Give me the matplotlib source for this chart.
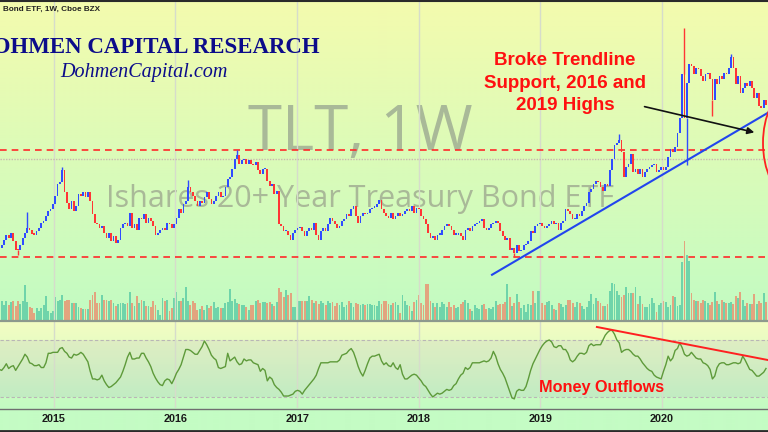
import numpy as np
import pandas as pd
import matplotlib
matplotlib.use("Agg")
import matplotlib.pyplot as plt
import matplotlib.dates as mdates
from matplotlib.patches import Ellipse, FancyArrowPatch
from matplotlib.lines import Line2D
from matplotlib.colors import to_rgb

# ---------------- data (weekly TLT, weeks starting Monday) ----------------
start_week = "2014-07-21"
first_open = 114.0

close_2014 = [114.5, 115.5, 117.0, 118.5, 117.5, 119.0, 116.5, 114.0, 113.8, 115.5,
              117.5, 119.0, 120.5, 119.8, 118.8, 118.5, 119.5, 120.5, 122.0, 122.5,
              124.0, 125.5, 126.0]
close_2015 = [127.5, 130.0, 133.5, 134.0, 137.5,
              131.0, 128.0, 126.0, 128.5,
              125.5, 127.0, 130.5, 130.0,
              131.0, 129.5, 131.0, 128.5,
              124.5, 122.0, 121.5, 120.5, 121.0,
              119.0, 117.5, 119.0, 116.5,
              118.0, 116.0, 117.0, 120.5, 121.5,
              122.0, 121.0, 125.0, 120.5,
              121.5, 120.0, 123.5, 123.0,
              124.5, 122.0, 123.5, 122.5, 121.0,
              118.5, 119.0, 120.0, 120.5,
              120.0, 122.0, 121.5, 120.5]
close_2016 = [121.5, 123.5, 126.0, 125.0, 127.5,
              128.5, 132.5, 131.0, 130.0,
              128.5, 127.0, 128.5, 128.0,
              129.5, 131.0, 129.0, 127.5, 128.5,
              130.0, 131.0, 129.5, 130.0,
              132.5, 135.0, 135.5, 138.0,
              141.0, 142.0, 139.5, 140.5, 141.0,
              139.5, 140.5, 139.5, 139.0,
              140.0, 137.5, 136.5, 138.0, 138.0,
              134.5, 133.0, 133.5, 130.5,
              131.5, 121.5, 121.0, 119.5,
              119.5, 118.5, 117.0, 119.0, 119.8]
close_2017 = [120.5, 120.8, 119.5, 118.0,
              119.5, 120.5, 120.0, 122.0,
              118.5, 117.0, 119.5, 120.5, 119.5,
              121.5, 123.5, 122.5, 121.5,
              120.5, 121.0, 122.5, 123.0,
              124.5, 124.0, 126.0, 127.0, 124.0,
              122.0, 124.0, 125.0, 124.5,
              125.0, 126.0, 126.5, 126.8,
              127.5, 128.8, 126.0, 125.0, 124.0,
              123.5, 125.0, 123.0, 124.0,
              125.0, 124.0, 124.5, 125.5,
              126.0, 125.5, 127.0, 125.0, 126.5]
close_2018 = [126.0, 124.0, 123.0, 121.5,
              119.0, 117.5, 118.0, 117.0,
              118.5, 118.5, 120.0, 121.0, 121.5,
              121.0, 120.0, 118.5, 118.5,
              119.0, 118.0, 117.0, 120.0,
              120.5, 119.5, 121.0, 121.5, 122.0,
              122.5, 123.0, 120.5, 120.0,
              120.5, 121.5, 122.0, 122.5, 122.0,
              119.5, 118.0, 117.0, 117.5,
              114.0, 114.5, 113.0, 115.5,
              113.5, 114.0, 115.5, 115.8, 116.5,
              119.5, 119.0, 121.0, 121.5]
close_2019 = [122.0, 121.0, 120.5, 121.0,
              121.5, 122.5, 121.5, 122.0,
              120.0, 122.0, 122.5, 126.0, 125.5,
              124.5, 123.0, 123.0, 124.5,
              124.0, 125.5, 127.0, 128.0, 131.0,
              132.0, 133.5, 134.5, 134.0,
              132.5, 131.5, 133.5, 133.0,
              137.5, 141.0, 145.0, 145.5, 146.5,
              143.0, 135.5, 138.5, 139.5,
              142.5, 137.0, 138.0, 136.5,
              138.0, 135.5, 137.0, 138.0, 138.5,
              139.0, 139.5, 137.0, 137.5]
close_2020 = [138.5, 137.5, 138.5, 141.5, 144.0,
              143.0, 144.5, 148.5, 153.0,
              166.0, 153.0, 163.5, 169.0,
              168.5, 166.0, 168.0, 167.5,
              165.5, 164.0, 166.0, 166.5, 164.5,
              158.5, 164.5, 163.0, 165.5,
              164.5, 166.5, 166.0, 168.0, 171.0,
              168.0, 163.0, 165.5, 160.5,
              162.0, 163.5, 162.5, 164.0,
              162.0, 159.0, 160.5, 156.5, 156.0,
              158.5, 157.0]

high_dates = ["2014-10-13", "2015-01-26", "2016-02-08", "2016-07-04",
              "2019-08-26", "2020-03-09", "2020-07-27"]
high_vals = [125.3, 138.5, 134.8, 143.6, 148.2, 179.7, 172.0]
low_dates = ["2014-09-15", "2018-10-15", "2020-03-16", "2020-06-01"]
low_vals = [112.5, 111.9, 139.0, 153.5]

vol_a = [50, 40, 33, 40, 32, 39, 40, 30, 41, 35,
         40, 72, 39, 28, 27, 17, 27, 20, 27, 33,
         50, 20, 17, 20, 48, 40, 43, 53, 40, 43,
         43, 37, 37, 37, 28, 27, 25, 25, 25, 43,
         53, 58, 37, 37, 53, 43, 43, 40, 43, 37,
         30, 35, 37, 37, 35, 37, 59, 37, 30, 50,
         37, 43, 40, 30, 30, 28, 40, 33, 23, 13,
         47, 40, 43, 20, 27, 47, 58, 41, 40, 47,
         68, 40, 33, 40, 37, 23, 25, 30, 23, 32,
         27, 30, 39, 27, 28, 27, 27, 37, 39, 65,
         40, 45, 37, 35, 33, 32, 28, 23, 32, 33,
         40, 43]
vol_b = [37, 39, 39, 37, 39, 35, 30, 39, 67, 59,
         48, 63, 53, 57, 28, 28,
         41, 41, 41, 41, 41, 50, 43, 37, 41, 35, 40, 37,
         32, 40, 37, 39, 30, 37, 32, 39, 28, 32, 40, 37, 28,
         37, 35, 32, 35, 32, 35, 35, 32, 32, 30, 41,
         35, 41, 40, 35, 32, 37,
         39, 32, 17, 52, 41, 32, 30, 21, 39, 43, 52, 37, 33, 75, 75, 41, 37, 28, 37, 28, 39, 35, 28, 39,
         28, 32, 27, 28, 35, 39, 43, 37, 25,
         21, 33, 27, 25, 32, 35, 25, 27, 25,
         28, 41, 33, 35, 35, 39,
         75]
vol_c = [48, 30, 37, 55, 39, 27, 32, 19, 35,
         33, 61, 37, 61, 61, 37, 32, 39, 41, 32, 25, 23, 37, 35, 28, 32, 43, 43, 37,
         28, 39, 37, 30, 25, 28, 40, 55, 35, 47, 40, 37, 30, 30, 35, 60, 77, 75, 60, 52, 48, 52, 68, 57, 57, 57, 68, 35, 50,
         35, 28, 28, 35, 47, 37, 19, 32, 37, 41, 39, 28, 33, 50, 48, 30, 32, 119, 160, 132, 120, 57, 43, 40, 40, 37, 43,
         41, 37, 32, 39, 59, 41, 35, 43, 39,
         37, 37, 39, 35, 50,
         47, 59, 43, 30, 37, 35, 35, 55, 35,
         40, 37, 57, 39]

mfi_a = [49, 48, 51, 55, 50, 52, 53, 48, 52, 56,
         60, 65, 62, 56, 55, 53, 53, 54, 51, 51,
         56, 66, 66, 67, 67, 67, 71, 72, 68, 66,
         62, 61, 65, 64, 65, 67, 65, 61, 57, 47,
         39, 39, 38, 39, 43, 37, 33, 30, 31, 33,
         35, 38, 41, 47, 54, 62, 67, 60, 60, 61,
         61, 66, 66, 61, 57, 52, 45, 40, 36, 33,
         32, 37, 39, 38, 34, 39, 45, 49, 54, 62,
         70, 70, 69, 67, 65, 65, 69, 73, 79, 75,
         70, 64, 61, 59, 51, 50, 51, 52, 66, 58,
         60, 62, 57, 54, 55, 60, 58, 59, 59, 56,
         55, 54, 47, 50, 48, 37, 41, 39, 33, 30,
         28, 25, 21, 21, 21, 22, 23, 26, 27, 26,
         23, 27, 30, 33, 36, 39, 43, 50, 56, 56,
         56, 56, 57, 57, 57, 57, 59, 64, 65, 66,
         69, 71, 67, 60, 52, 46, 42, 48, 55, 61,
         63, 63, 64, 65, 58]
mfi_b = [54, 56, 53, 52, 56, 51, 49, 54, 44, 39,
         39, 41, 43, 44, 43, 40, 37, 33, 31, 27,
         23, 20, 22, 24, 23, 24, 26, 28, 27, 28,
         32, 34, 39, 43, 45, 51, 49, 51, 56, 56,
         56, 56, 57, 58, 57, 58, 61, 68, 63, 55,
         49, 45, 40, 33, 26, 19, 18, 26, 28, 27,
         27, 31, 39, 48, 55, 60, 65, 70, 74, 77,
         79, 80, 78, 73, 72, 74, 74, 70, 70, 66,
         59, 57, 59, 63, 66, 66, 65, 67, 74, 76,
         74, 75, 75, 75, 80, 85, 88, 90, 90, 86,
         80, 77, 67, 69, 70, 70, 68, 65, 63, 63,
         60, 56, 53, 50, 48, 47, 43, 41, 40, 39,
         47, 54, 63, 58, 61, 69, 71, 77, 72, 65,
         63, 64, 67, 64, 61, 60, 60, 56, 55, 53,
         49, 39, 42, 51, 55, 56, 56, 54, 54, 55,
         56, 56, 55, 56, 63, 59, 54, 49, 48, 45,
         42, 42, 44, 46, 50]

year_ticks = ["2015-01-01", "2016-01-01", "2017-01-01", "2018-01-01", "2019-01-01", "2020-01-01"]
year_labels = ["2015", "2016", "2017", "2018", "2019", "2020"]

high_2016 = 143.6
low_2018 = 111.9
dotted_level = 140.8

trend_dates = ["2018-08-09", "2020-11-15"]
trend_prices = [106.6, 154.6]
arrow_dates = ["2019-11-02", "2020-10-13"]
arrow_prices = [156.6, 148.6]
div_dates = ["2019-06-20", "2020-11-15"]
div_vals = [93.7, 58.9]

# ---------------- figure ----------------
W, H = 768, 432
fig = plt.figure(figsize=(W / 100, H / 100), dpi=100)


def fx(px):
    return px / W


def fy(py):
    return 1 - py / H


def d2n(s):
    return mdates.date2num(pd.Timestamp(s).to_pydatetime())


def grad(c1, c2, n):
    a = np.array(to_rgb(c1))
    b = np.array(to_rgb(c2))
    t = np.linspace(0, 1, n)[:, None]
    return a * (1 - t) + b * t


rows = np.vstack([grad('#f4fbae', '#c2fbc3', 321),
                  grad('#f4fdc2', '#c3fbc3', 87),
                  grad('#c4fcc4', '#c4fcc4', 24)])
bg = fig.add_axes([0, 0, 1, 1], zorder=-10)
bg.imshow(rows[:, None, :], aspect='auto', extent=[0, 1, 0, 1], interpolation='bilinear')
bg.axis('off')

closes = np.array(close_2014 + close_2015 + close_2016 + close_2017 + close_2018 + close_2019 + close_2020)
volume_m = np.array(vol_a + vol_b + vol_c)
mfi = np.array(mfi_a + mfi_b)
n = min(len(closes), len(volume_m), len(mfi))
closes, volume_m, mfi = closes[:n], volume_m[:n], mfi[:n]
opens = np.r_[first_open, closes[:-1]]
dates = pd.date_range(start_week, periods=n, freq='W-MON')
x = mdates.date2num(dates.to_pydatetime())
up = closes >= opens

x_left = d2n("2014-07-23")
x_right = x_left + 2307

# main price pane
ax = fig.add_axes([0, fy(321), 1, 321 / H], zorder=2)
ax.patch.set_visible(False)
ax.set_xlim(x_left, x_right)
ax.set_ylim(92.9, 188.0)
for s in ax.spines.values():
    s.set_visible(False)
ax.set_xticks([])
ax.set_yticks([])

# volume pane (overlay at bottom of price pane)
axv = fig.add_axes([0, fy(321), 1, 321 / H], zorder=1)
axv.patch.set_visible(False)
axv.set_xlim(x_left, x_right)
axv.set_ylim(0, 642)
axv.axis('off')
vcol = np.where(up, '#6fd4aa', '#e2a47f')
axv.bar(x, volume_m, width=5.6, color=vcol, linewidth=0)

for yt in year_ticks:
    ax.axvline(d2n(yt), color='#d6dccb', lw=1.0, zorder=1)

ax.axhline(high_2016, color='#ff2a2a', lw=1.2, ls=(0, (4, 3)), zorder=2)
ax.axhline(low_2018, color='#ff2a2a', lw=1.2, ls=(0, (4, 3)), zorder=2)
ax.axhline(dotted_level, color='#c9b8b0', lw=1.0, ls=(0, (1, 1)), zorder=2)

body_lo = np.minimum(opens, closes)
body_h = np.maximum(np.abs(closes - opens), 0.35)
ccol = np.where(up, '#2f4cff', '#ff3535')
ax.bar(x, body_h, bottom=body_lo, width=5.2, color=ccol, linewidth=0, zorder=3)

idx = {d: i for i, d in enumerate(dates.strftime('%Y-%m-%d'))}
for d, hv in zip(high_dates, high_vals):
    i = idx[d]
    ax.vlines(x[i], max(opens[i], closes[i]), hv, color=ccol[i], lw=1.0, zorder=3)
for d, lv in zip(low_dates, low_vals):
    i = idx[d]
    ax.vlines(x[i], lv, min(opens[i], closes[i]), color=ccol[i], lw=1.0, zorder=3)

# trendline and arrow
ax.plot([d2n(d) for d in trend_dates], trend_prices, color='#2245ee', lw=1.5, zorder=4)
ax.add_patch(FancyArrowPatch((d2n(arrow_dates[0]), arrow_prices[0]),
                             (d2n(arrow_dates[1]), arrow_prices[1]),
                             arrowstyle='-|>', mutation_scale=10, color='#111111', lw=1.2, zorder=5))

# oscillator pane
axo = fig.add_axes([0, fy(408), 1, 87 / H], zorder=2)
axo.patch.set_visible(False)
axo.set_xlim(x_left, x_right)
axo.set_ylim(8.4, 100)
for s in axo.spines.values():
    s.set_visible(False)
axo.set_yticks([])
axo.axhspan(20, 80, color='#7e57c2', alpha=0.09, lw=0, zorder=0)
axo.axhline(80, color='#b9b6b6', lw=0.8, ls=(0, (3, 2)), zorder=1)
axo.axhline(20, color='#b9b6b6', lw=0.8, ls=(0, (3, 2)), zorder=1)
for yt in year_ticks:
    axo.axvline(d2n(yt), color='#d6dccb', lw=1.0, zorder=1)
axo.plot(x, mfi, color='#5e9a3a', lw=1.0, zorder=3)
axo.plot([d2n(d) for d in div_dates], div_vals, color='#ff2020', lw=1.4, zorder=4)
axo.set_xticks([d2n(d) for d in year_ticks])
axo.set_xticklabels(year_labels, fontfamily='Liberation Sans', fontweight='bold',
                    fontsize=7.8, color='#1a1a1a')
axo.tick_params(axis='x', length=0, pad=4.5)

# separators / borders
fig.add_artist(Line2D([0, 1], [fy(321), fy(321)], color='#8d998d', lw=1.6, zorder=6))
fig.add_artist(Line2D([0, 1], [fy(408.5), fy(408.5)], color='#6f6f6f', lw=1.0, zorder=6))
fig.add_artist(Line2D([0, 1], [fy(431), fy(431)], color='#2a2a2a', lw=2.0, zorder=6))
fig.add_artist(Line2D([0, 1], [fy(0.5), fy(0.5)], color='#2a2a2a', lw=1.5, zorder=6))

# red ellipse at right edge
fig.add_artist(Ellipse((fx(788), fy(143)), 50 / W, 100 / H, fill=False,
                       edgecolor='#ff2020', lw=1.3, zorder=7))

# watermarks
fig.text(fx(360), fy(150), "TLT, 1W", fontfamily='Open Sans', fontsize=44.5,
         color='#a9b998', ha='center', va='baseline', zorder=-5)
fig.text(fx(360), fy(207), "Ishares 20+ Year Treasury Bond ETF", fontfamily='Open Sans',
         fontsize=22, color='#a9b998', ha='center', va='baseline', zorder=-5)

# header and branding
fig.text(fx(3), fy(9.5), "Bond ETF, 1W, Cboe BZX", fontfamily='Liberation Sans',
         fontweight='bold', fontsize=5.9, color='#222222', ha='left', va='center', zorder=8)
fig.text(fx(320), fy(53), "DOHMEN CAPITAL RESEARCH", fontfamily='Liberation Serif',
         fontweight='bold', fontsize=16.5, color='#0c0c8a', ha='right', va='baseline', zorder=8)
fig.text(fx(143.5), fy(77), "DohmenCapital.com", fontfamily='Liberation Serif',
         fontstyle='italic', fontsize=14.5, color='#0c0c8a', ha='center', va='baseline', zorder=8)

for txt, yb in [("Broke Trendline", 65), ("Support, 2016 and", 87.5), ("2019 Highs", 110)]:
    fig.text(fx(565), fy(yb), txt, fontfamily='Liberation Sans', fontweight='bold',
             fontsize=13.5, color='#ff1010', ha='center', va='baseline', zorder=8)

fig.text(fx(601.5), fy(392), "Money Outflows", fontfamily='Liberation Sans', fontweight='bold',
         fontsize=11.7, color='#ff1010', ha='center', va='baseline', zorder=8)

fig.savefig("out.png", dpi=100)
